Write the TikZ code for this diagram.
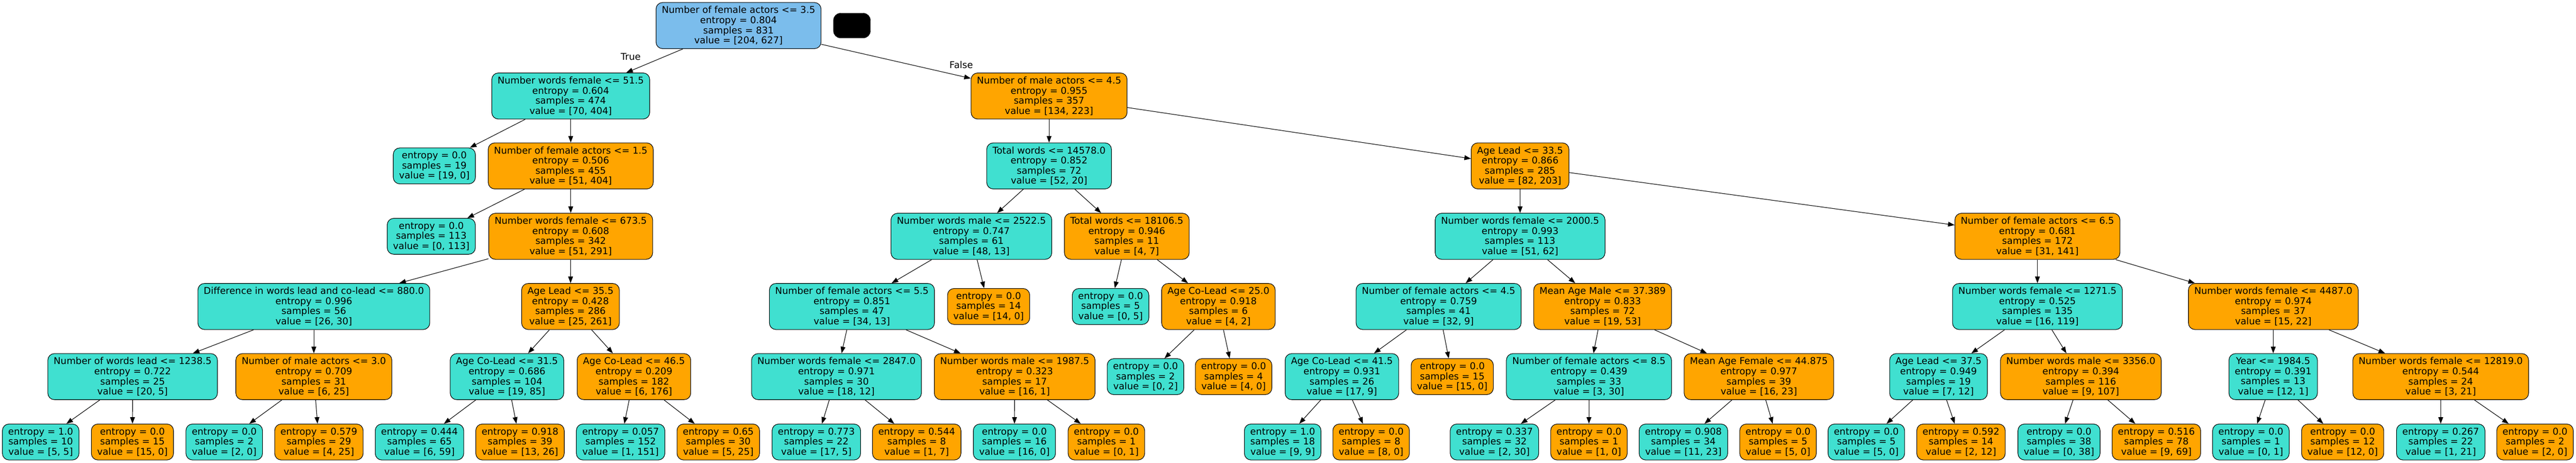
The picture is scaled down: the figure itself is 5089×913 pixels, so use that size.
\documentclass[tikz,border=0pt]{standalone}
\usepackage{fontspec}
\setmainfont{DejaVu Sans}
\usetikzlibrary{arrows.meta}
\definecolor{cyn}{HTML}{40E0D0}
\definecolor{org}{HTML}{FFA500}
\definecolor{rootblue}{HTML}{7BBDEC}

\begin{document}
\begin{tikzpicture}[x=1pt,y=-1pt,
    box/.style={draw=black,line width=1.1pt,rounded corners=13pt,align=center,
      inner xsep=11.5pt,inner ysep=0pt,font=\fontsize{18.5}{20}\selectfont},
    cond/.style={box,minimum height=91pt},
    leaf/.style={box,minimum height=71pt},
    edge/.style={line width=1.1pt,-{Triangle[length=13pt,width=9.5pt]}},
    lbl/.style={font=\fontsize{18.5}{20}\selectfont,inner sep=0pt}]
  \useasboundingbox (0,0) rectangle (5089,913);

  % root
  \node[cond,fill=rootblue] (n0) at (1459,50.5)
    {Number of female actors <= 3.5\\entropy = 0.804\\samples = 831\\value = [204, 627]};
  \node[draw=black,fill=black,rounded corners=14pt,minimum width=73pt,minimum height=49pt,inner sep=0pt] (blob) at (1683,50.5) {};

  % splits
  \foreach \n/\x/\y/\c/\t/\e/\s/\v in {
    n1/1127.5/189.5/cyn/Number words female <= 51.5/0.604/474/{[70, 404]},
    n2/2072.5/189.5/org/Number of male actors <= 4.5/0.955/357/{[134, 223]},
    n3/1127.5/327.5/org/Number of female actors <= 1.5/0.506/455/{[51, 404]},
    n4/2072.5/327.5/cyn/Total words <= 14578.0/0.852/72/{[52, 20]},
    n5/3003/327.5/org/Age Lead <= 33.5/0.866/285/{[82, 203]},
    n6/1127.5/466.5/org/Number words female <= 673.5/0.608/342/{[51, 291]},
    n7/1919/466.5/cyn/Number words male <= 2522.5/0.747/61/{[48, 13]},
    n8/2226/466.5/org/Total words <= 18106.5/0.946/11/{[4, 7]},
    n9/3003/466.5/cyn/Number words female <= 2000.5/0.993/113/{[51, 62]},
    n10/4025/466.5/org/Number of female actors <= 6.5/0.681/172/{[31, 141]},
    n11/620/605/cyn/Difference in words lead and co-lead <= 880.0/0.996/56/{[26, 30]},
    n12/1127/605/org/Age Lead <= 35.5/0.428/286/{[25, 261]},
    n13/1683/605/cyn/Number of female actors <= 5.5/0.851/47/{[34, 13]},
    n14/2407/605/org/Age Co-Lead <= 25.0/0.918/6/{[4, 2]},
    n15/2842/605/cyn/Number of female actors <= 4.5/0.759/41/{[32, 9]},
    n16/3166/605/org/Mean Age Male <= 37.389/0.833/72/{[19, 53]},
    n17/4025/605/cyn/Number words female <= 1271.5/0.525/135/{[16, 119]},
    n18/4491/605/org/Number words female <= 4487.0/0.974/37/{[15, 22]},
    n19/262/743.5/cyn/Number of words lead <= 1238.5/0.722/25/{[20, 5]},
    n20/620/743.5/org/Number of male actors <= 3.0/0.709/31/{[6, 25]},
    n21/1001.6/743.5/cyn/Age Co-Lead <= 31.5/0.686/104/{[19, 85]},
    n22/1252.4/743.5/org/Age Co-Lead <= 46.5/0.209/182/{[6, 176]},
    n23/1652.5/743.5/cyn/Number words female <= 2847.0/0.971/30/{[18, 12]},
    n24/2004.5/743.5/org/Number words male <= 1987.5/0.323/17/{[16, 1]},
    n25/2651/743.5/cyn/Age Co-Lead <= 41.5/0.931/26/{[17, 9]},
    n26/3139/743.5/cyn/Number of female actors <= 8.5/0.439/33/{[3, 30]},
    n27/3474.7/743.5/org/Mean Age Female <= 44.875/0.977/39/{[16, 23]},
    n28/3829.6/743.5/cyn/Age Lead <= 37.5/0.949/19/{[7, 12]},
    n29/4110.8/743.5/org/Number words male <= 3356.0/0.394/116/{[9, 107]},
    n30/4490.7/743.5/cyn/Year <= 1984.5/0.391/13/{[12, 1]},
    n31/4821.7/743.5/org/Number words female <= 12819.0/0.544/24/{[3, 21]}}
    \node[cond,fill=\c] (\n) at (\x,\y) {\t\\entropy = \e\\samples = \s\\value = \v};

  % leaves
  \foreach \n/\x/\y/\c/\e/\s/\v in {
    l1/858/327.5/cyn/0.0/19/{[19, 0]},
    l2/852/466.5/cyn/0.0/113/{[0, 113]},
    l3/1953/605/org/0.0/14/{[14, 0]},
    l4/2194/605/cyn/0.0/5/{[0, 5]},
    l5/2263/743.5/cyn/0.0/2/{[0, 2]},
    l6/2437/743.5/org/0.0/4/{[4, 0]},
    l7/2869/743.5/org/0.0/15/{[15, 0]},
    a1/80.4/872.5/cyn/1.0/10/{[5, 5]},
    a2/261.6/872.5/org/0.0/15/{[15, 0]},
    a3/443/872.5/cyn/0.0/2/{[2, 0]},
    a4/630/872.5/org/0.579/29/{[4, 25]},
    a5/828.7/872.5/cyn/0.444/65/{[6, 59]},
    a6/1027.3/872.5/org/0.918/39/{[13, 26]},
    a7/1226/872.5/cyn/0.057/152/{[1, 151]},
    a8/1419/872.5/org/0.65/30/{[5, 25]},
    a9/1612.7/872.5/cyn/0.773/22/{[17, 5]},
    a10/1811/872.5/org/0.544/8/{[1, 7]},
    a11/2004/872.5/cyn/0.0/16/{[16, 0]},
    a12/2185.7/872.5/org/0.0/1/{[0, 1]},
    a13/2534/872.5/cyn/1.0/18/{[9, 9]},
    a14/2708.7/872.5/org/0.0/8/{[8, 0]},
    a15/2952.4/872.5/cyn/0.337/32/{[2, 30]},
    a16/3139/872.5/org/0.0/1/{[1, 0]},
    a17/3325.6/872.5/cyn/0.908/34/{[11, 23]},
    a18/3512.6/872.5/org/0.0/5/{[5, 0]},
    a19/3687/872.5/cyn/0.0/5/{[5, 0]},
    a20/3874/872.5/org/0.592/14/{[2, 12]},
    a21/4067.6/872.5/cyn/0.0/38/{[0, 38]},
    a22/4260/872.5/org/0.516/78/{[9, 69]},
    a23/4446.7/872.5/cyn/0.0/1/{[0, 1]},
    a24/4628/872.5/org/0.0/12/{[12, 0]},
    a25/4821.7/872.5/cyn/0.267/22/{[1, 21]},
    a26/5008/872.5/org/0.0/2/{[2, 0]}}
    \node[leaf,fill=\c] (\n) at (\x,\y) {entropy = \e\\samples = \s\\value = \v};

  % edges
  \foreach \a/\b in {n0/n1,n0/n2,n1/l1,n1/n3,n3/l2,n3/n6,n6/n11,n6/n12,
    n11/n19,n11/n20,n19/a1,n19/a2,n20/a3,n20/a4,n12/n21,n12/n22,n21/a5,n21/a6,n22/a7,n22/a8,
    n2/n4,n2/n5,n4/n7,n4/n8,n7/n13,n7/l3,n13/n23,n13/n24,n23/a9,n23/a10,n24/a11,n24/a12,
    n8/l4,n8/n14,n14/l5,n14/l6,n5/n9,n5/n10,n9/n15,n9/n16,n15/n25,n15/l7,n25/a13,n25/a14,
    n16/n26,n16/n27,n26/a15,n26/a16,n27/a17,n27/a18,n10/n17,n10/n18,n17/n28,n17/n29,
    n28/a19,n28/a20,n29/a21,n29/a22,n18/n30,n18/n31,n30/a23,n30/a24,n31/a25,n31/a26}
    \draw[edge] (\a) -- (\b);

  \node[lbl] (ltrue) at (1246,112) {True};
  \node[lbl] (lfalse) at (1899,128) {False};
\end{tikzpicture}
\end{document}
